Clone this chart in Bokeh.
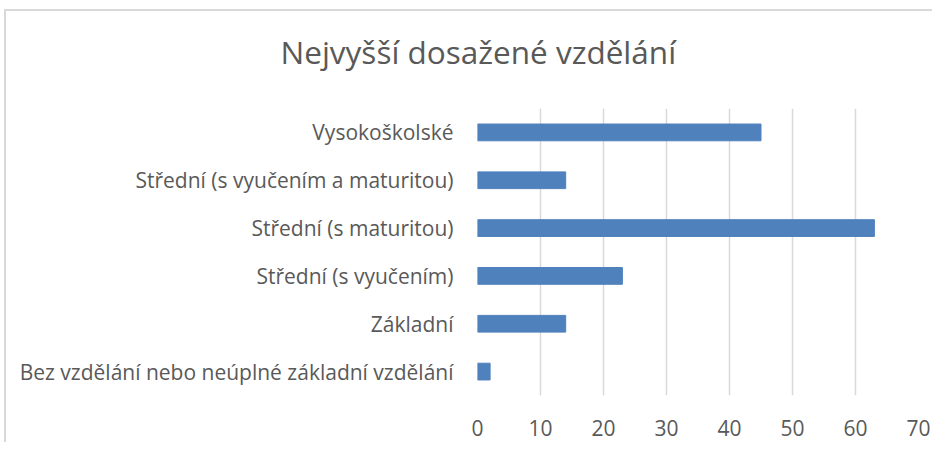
from bokeh.plotting import figure
from bokeh.models import Range1d, FactorRange, FixedTicker, Title
from bokeh.embed import file_html
from bokeh.resources import INLINE

title_text = "Nejvyšší dosažené vzdělání"
categories = [
    "Bez vzdělání nebo neúplné základní vzdělání",
    "Základní",
    "Střední (s vyučením)",
    "Střední (s maturitou)",
    "Střední (s vyučením a maturitou)",
    "Vysokoškolské",
]
values = [2, 14, 23, 63, 14, 45]
x_ticks = [0, 10, 20, 30, 40, 50, 60, 70]

FONT = "Open Sans"
TXT = "#595959"
GRID = "#d9d9d9"

p = figure(
    width=932, height=442,
    y_range=FactorRange(factors=categories),
    x_range=Range1d(0, 70),
    output_backend="svg", toolbar_location=None,
    min_border_left=477, min_border_right=14,
    min_border_top=108, min_border_bottom=47,
)
p.hbar(y=categories, right=values, left=0, height=0.35, color="#4F81BD")

p.outline_line_color = None
p.background_fill_color = "white"
p.border_fill_color = None
p.styles = {
    "background": (
        f"linear-gradient({GRID},{GRID}) 4px 9px / 2px 100% no-repeat, "
        f"linear-gradient({GRID},{GRID}) 4px 9px / 100% 2px no-repeat, white"
    )
}

p.xaxis.ticker = FixedTicker(ticks=x_ticks)
p.xgrid.ticker = FixedTicker(ticks=x_ticks)
p.xgrid.grid_line_color = GRID
p.xgrid.grid_line_width = 1.5
p.ygrid.grid_line_color = None

for ax in (p.xaxis, p.yaxis):
    ax.axis_line_color = None
    ax.major_tick_line_color = None
    ax.minor_tick_line_color = None
    ax.major_tick_out = 0
    ax.major_tick_in = 0
    ax.minor_tick_out = 0
    ax.minor_tick_in = 0
    ax.major_label_text_font = FONT
    ax.major_label_text_color = TXT
    ax.major_label_text_font_size = "21px"
p.xaxis.major_label_standoff = 24
p.yaxis.major_label_standoff = 24

# spacer between the frame and the title
p.add_layout(Title(text=" ", text_font_size="10px", standoff=23), "above")
p.add_layout(Title(text=title_text, align="left", offset=-197, vertical_align="bottom",
                   standoff=0, text_font=FONT, text_font_size="31.5px",
                   text_font_style="normal", text_color=TXT), "above")

open("out.html", "w").write(file_html(p, INLINE))
